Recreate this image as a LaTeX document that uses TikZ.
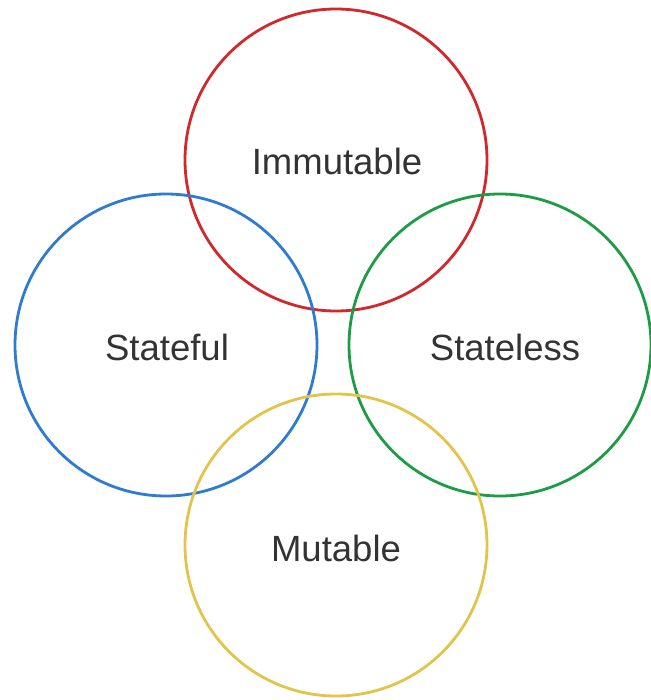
\documentclass[tikz,border=0pt]{standalone}
\usepackage{fontspec}
\setmainfont{Liberation Sans}
\definecolor{ringred}{HTML}{D0282B}
\definecolor{ringblue}{HTML}{2F7BD0}
\definecolor{ringgreen}{HTML}{1E9B45}
\definecolor{ringyellow}{HTML}{E2C34C}
\definecolor{labelgray}{HTML}{333333}
\begin{document}
\begin{tikzpicture}[x=1pt,y=-1pt,
  ring/.style={circle, draw=#1, line width=2.8pt, minimum size=302pt,
    inner sep=0pt},
  ringlabel/.style={text=labelgray, inner sep=0pt,
    font=\fontsize{36.5}{40}\selectfont}]
\useasboundingbox (0,0) rectangle (650,700);
% the four rings
\node[ring=ringred]    (immutable) at (336,160) {};
\node[ring=ringblue]   (stateful)  at (166,345) {};
\node[ring=ringgreen]  (stateless) at (500,345) {};
\node[ring=ringyellow] (mutable)   at (336,545) {};
% their names
\node[ringlabel] (immutabletext) at (337,161) {Immutable};
\node[ringlabel] (statefultext)  at (167,347) {Stateful};
\node[ringlabel] (statelesstext) at (505,347) {Stateless};
\node[ringlabel] (mutabletext)   at (336,548) {Mutable};
\end{tikzpicture}
\end{document}
